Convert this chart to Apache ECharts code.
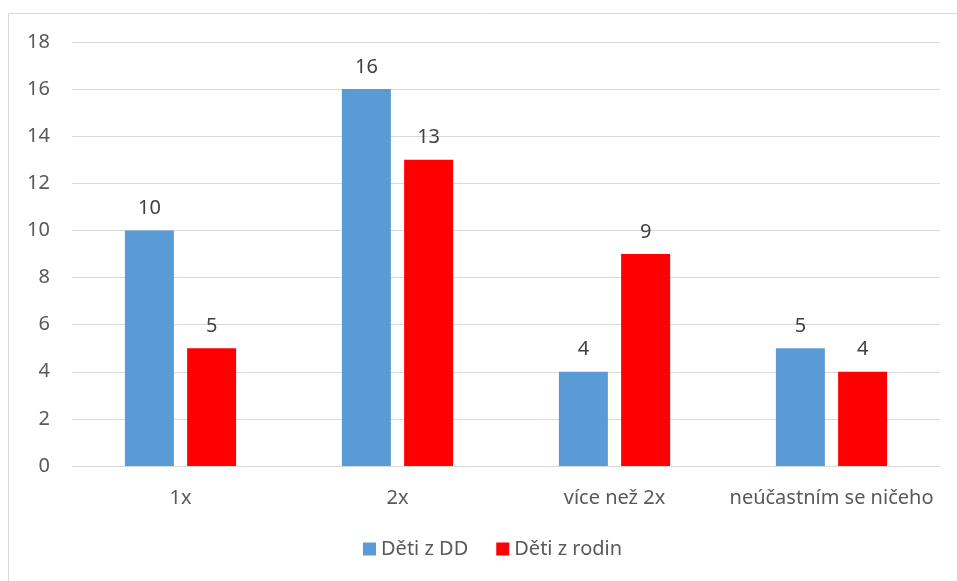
<!DOCTYPE html>
<html><head><meta charset="utf-8">
<script src="https://cdn.jsdelivr.net/npm/echarts@6/dist/echarts.min.js"></script>
<style>html,body{margin:0;padding:0;background:#fff}#c{width:957px;height:581px}</style>
</head><body><div id="c"></div>
<script>
const categories = ['1x', '2x', 'více než 2x', 'neúčastním se ničeho'];
const detiDD = [10, 16, 4, 5];
const detiRodin = [5, 13, 9, 4];
const seriesNames = ['Děti z DD', 'Děti z rodin'];
const font = '"Noto Sans", "Open Sans", sans-serif';
const chart = echarts.init(document.getElementById('c'), null, {renderer: 'canvas'});
const lbl = {show: true, position: 'top', distance: 12, color: '#404040', fontSize: 20, fontFamily: font};
chart.setOption({
  animation: false,
  backgroundColor: '#fff',
  graphic: [{type: 'rect', shape: {x: 8.5, y: 13.5, width: 1000, height: 1000},
    style: {fill: 'none', stroke: '#d9d9d9', lineWidth: 1}, silent: true}],
  grid: {left: 72, right: 17, top: 42, bottom: 115, containLabel: false},
  legend: {bottom: 17, left: 358, itemWidth: 13, itemHeight: 13, itemGap: 28,
    icon: 'rect', textStyle: {color: '#595959', fontSize: 20, fontFamily: font},
    data: seriesNames},
  xAxis: {type: 'category', data: categories,
    axisLine: {lineStyle: {color: '#d9d9d9', width: 1}}, axisTick: {show: false},
    axisLabel: {color: '#595959', fontSize: 20, fontFamily: font, margin: 22, interval: 0, hideOverlap: false}},
  yAxis: {type: 'value', min: 0, max: 18, interval: 2,
    axisLine: {show: false}, axisTick: {show: false},
    splitLine: {lineStyle: {color: '#d9d9d9', width: 1}},
    axisLabel: {color: '#595959', fontSize: 20, fontFamily: font, margin: 22}},
  series: [
    {name: seriesNames[0], type: 'bar', data: detiDD, barWidth: 49, barGap: '27%',
     itemStyle: {color: '#5b9bd5'}, label: lbl},
    {name: seriesNames[1], type: 'bar', data: detiRodin, barWidth: 49,
     itemStyle: {color: '#ff0000'}, label: lbl}
  ]
});
</script></body></html>
